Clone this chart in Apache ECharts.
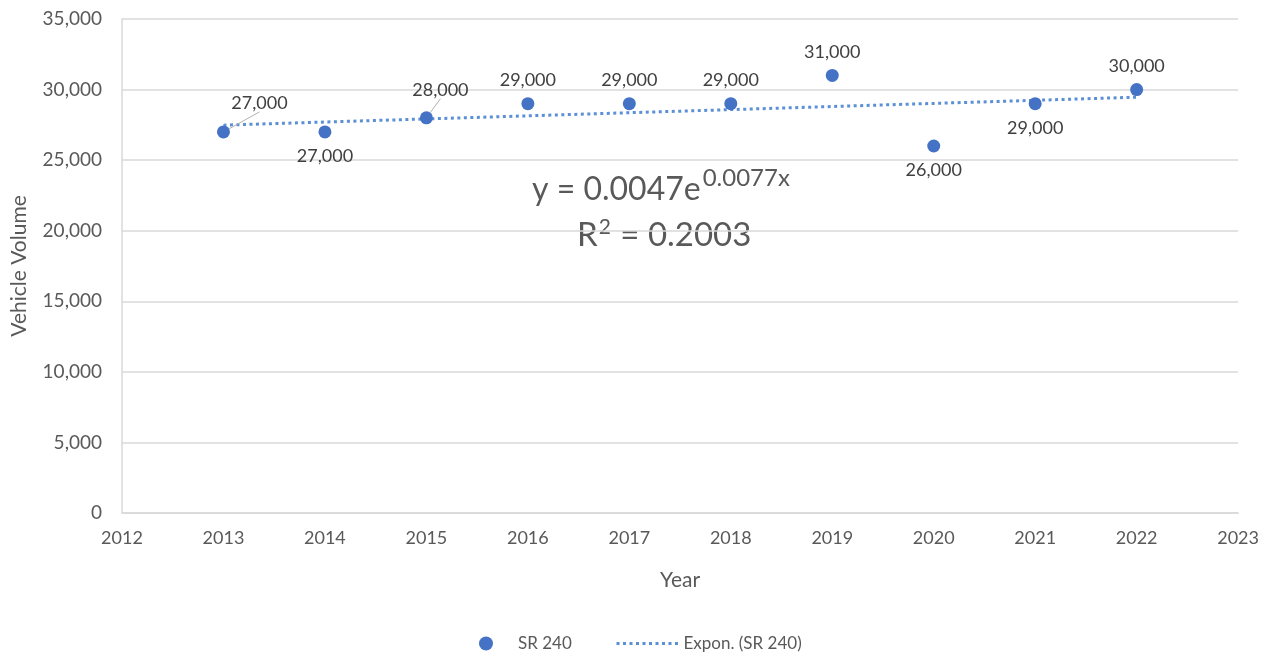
<!DOCTYPE html>
<html>
<head>
<meta charset="utf-8">
<title>SR 240 Vehicle Volume</title>
<script src="https://cdn.jsdelivr.net/npm/echarts@6/dist/echarts.min.js"></script>
<style>
  html, body { margin: 0; padding: 0; background: #ffffff; }
  #chart { width: 1262px; height: 653px; }
</style>
</head>
<body>
<div id="chart"></div>
<script>
// Annual traffic counts on SR 240
const years = [2013, 2014, 2015, 2016, 2017, 2018, 2019, 2020, 2021, 2022];
const volumes = [27000, 27000, 28000, 29000, 29000, 29000, 31000, 26000, 29000, 30000];

// Exponential trendline values at each year
const trendValues = [27480, 27700, 27920, 28140, 28360, 28580, 28800, 29020, 29240, 29460];

// Axis ticks
const xTicks = [2012, 2013, 2014, 2015, 2016, 2017, 2018, 2019, 2020, 2021, 2022, 2023];
const yTicks = [0, 5000, 10000, 15000, 20000, 25000, 30000, 35000];

// Trendline equation and fit
const eqCoef = '0.0047';
const eqExp = '0.0077x';
const rSquared = '0.2003';

const FONT = 'Lato';
const TEXT = '#595959';
const LABEL = '#404040';
const BLUE = '#4472C4';
const TREND = '#5B8FD6';

const fmt = v => v.toLocaleString('en-US');

// Labels that sit under their point
const labelsBelow = new Set([2014, 2020, 2021]);
// Labels pushed up-right with a short leader
const labelShift = { 2013: [36, -29], 2015: [14, -28] };

const pointData = years.map((yr, i) => {
  const item = { value: [yr, volumes[i]] };
  if (labelShift[yr]) {
    item.label = { position: 'inside', offset: labelShift[yr] };
    item.labelLine = { show: true, length2: 0, lineStyle: { color: '#b0b0b0', width: 1 } };
  } else if (labelsBelow.has(yr)) {
    item.label = { position: 'bottom', distance: 9 };
  }
  return item;
});

const trendData = years.map((yr, i) => [yr, trendValues[i]]);

const chart = echarts.init(document.getElementById('chart'));
chart.setOption({
  animation: false,
  textStyle: { fontFamily: FONT },
  grid: { left: 122, right: 23, top: 19, bottom: 140 },
  xAxis: {
    type: 'value',
    min: xTicks[0],
    max: xTicks[xTicks.length - 1],
    interval: 1,
    name: 'Year',
    nameLocation: 'middle',
    nameGap: 57,
    nameTextStyle: { color: TEXT, fontSize: 21, fontFamily: FONT },
    axisLine: { show: true, lineStyle: { color: '#d9d9d9', width: 1.5 } },
    axisTick: { show: false },
    splitLine: { show: false },
    axisLabel: { color: TEXT, fontSize: 18, margin: 16, fontFamily: FONT, formatter: v => String(v) }
  },
  yAxis: {
    type: 'value',
    min: yTicks[0],
    max: yTicks[yTicks.length - 1],
    interval: 5000,
    name: 'Vehicle Volume',
    nameLocation: 'middle',
    nameGap: 92,
    nameTextStyle: { color: TEXT, fontSize: 21, fontFamily: FONT },
    axisLine: { show: true, lineStyle: { color: '#d9d9d9', width: 1.5 } },
    axisTick: { show: false },
    splitLine: { show: true, lineStyle: { color: '#d9d9d9', width: 1.5 } },
    axisLabel: { color: TEXT, fontSize: 19, margin: 20, fontFamily: FONT, formatter: v => fmt(v) }
  },
  legend: [
    {
      data: ['SR 240'],
      left: 474,
      top: 630,
      itemWidth: 14,
      itemHeight: 14,
      itemStyle: { opacity: 1 },
      textStyle: { color: TEXT, fontSize: 17, fontFamily: FONT, padding: [0, 0, 0, 20] }
    },
    {
      data: ['Expon. (SR 240)'],
      left: 610,
      top: 630,
      itemWidth: 62,
      itemHeight: 14,
      itemGap: 6,
      itemStyle: { opacity: 0 },
      lineStyle: { color: TREND, width: 3, type: [3, 3.5] },
      textStyle: { color: TEXT, fontSize: 17, fontFamily: FONT, padding: [0, 0, 0, 0] }
    }
  ],
  series: [
    {
      name: 'Expon. (SR 240)',
      type: 'line',
      data: trendData,
      showSymbol: false,
      symbol: 'none',
      silent: true,
      z: 1,
      lineStyle: { color: TREND, width: 3, type: [3, 3.5] },
      itemStyle: { color: TREND }
    },
    {
      name: 'SR 240',
      type: 'scatter',
      data: pointData,
      symbol: 'circle',
      symbolSize: 13,
      z: 3,
      itemStyle: { color: BLUE, opacity: 1 },
      label: {
        show: true,
        position: 'top',
        distance: 8,
        color: LABEL,
        fontSize: 18,
        fontFamily: FONT,
        formatter: p => fmt(p.value[1])
      }
    }
  ],
  graphic: [
    {
      type: 'text',
      left: 532,
      top: 166,
      style: {
        text: '{b|y = ' + eqCoef + 'e}{s|' + eqExp + '}',
        rich: {
          b: { fontSize: 32, fontFamily: FONT, fill: TEXT, color: TEXT, verticalAlign: 'bottom' },
          s: { fontSize: 24, fontFamily: FONT, fill: TEXT, color: TEXT, verticalAlign: 'top', padding: [0, 0, 16, 2] }
        }
      }
    },
    {
      type: 'text',
      left: 577,
      top: 217,
      style: {
        text: '{b|R}{s|2}{b| = ' + rSquared + '}',
        rich: {
          b: { fontSize: 33, fontFamily: FONT, fill: TEXT, color: TEXT, verticalAlign: 'bottom' },
          s: { fontSize: 21, fontFamily: FONT, fill: TEXT, color: TEXT, verticalAlign: 'top', padding: [0, 1, 14, 1] }
        }
      }
    }
  ]
});
</script>
</body>
</html>
